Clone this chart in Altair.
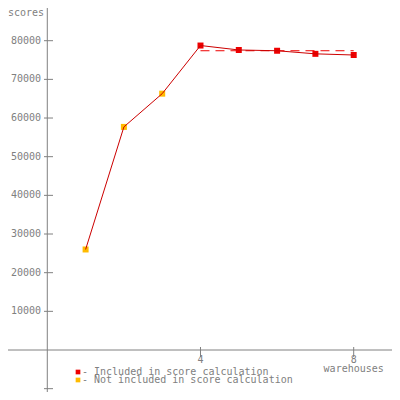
import altair as alt
import pandas as pd

# ---- data ----
warehouses = [1, 2, 3, 4, 5, 6, 7, 8]
scores = [26000, 57700, 66300, 78750, 77600, 77400, 76600, 76300]
included = ["no", "no", "no", "yes", "yes", "yes", "yes", "yes"]
avg_score = 77400
avg_range = [4, 8]
y_tick_values = [-10000, 10000, 20000, 30000, 40000, 50000, 60000, 70000, 80000]
y_tick_labels = ["", "10000", "20000", "30000", "40000", "50000", "60000", "70000", "80000"]
x_tick_values = [4, 8]
x_tick_labels = ["4", "8"]
legend_labels = ["- Included in score calculation", "- Not included in score calculation"]
y_title = "scores"
x_title = "warehouses"

# ---- styles ----
GRAY = "#808080"
RED = "#ee0000"
ORANGE = "#ffbb00"
LINE = "#cc0000"
FONT = "DejaVu Sans Mono"
FS = 10
W = H = 384

xs = alt.Scale(domain=[-1.026, 9.0], nice=False, zero=False)
ys = alt.Scale(domain=[-10863, 88457], nice=False, zero=False)

pts = pd.DataFrame({"w": warehouses, "s": scores, "inc": included})
yt = pd.DataFrame({"v": y_tick_values, "t": y_tick_labels})
xt = pd.DataFrame({"v": x_tick_values, "t": x_tick_labels})
origin = pd.DataFrame({"v": [0]})
avg = pd.DataFrame({"a": [avg_range[0]], "b": [avg_range[1]], "s": [avg_score]})
leg = pd.DataFrame({"t": legend_labels, "inc": ["yes", "no"], "row": [0, 1]})

X = lambda f: alt.X(f, type="quantitative", scale=xs, axis=None)
Y = lambda f: alt.Y(f, type="quantitative", scale=ys, axis=None)

y_axis = alt.Chart(origin).mark_rule(color=GRAY, strokeWidth=1).encode(
    x=X("v"), y=alt.value(0), y2=alt.value(H))
x_axis = alt.Chart(origin).mark_rule(color=GRAY, strokeWidth=1).encode(
    y=Y("v"), x=alt.value(0), x2=alt.value(W))

y_ticks = alt.Chart(yt).mark_rule(color=GRAY).encode(
    y=Y("v"), x=alt.value(36), x2=alt.value(45))
y_labels = alt.Chart(yt).mark_text(align="right", baseline="middle", font=FONT,
                                   fontSize=FS, color=GRAY).encode(
    y=Y("v"), x=alt.value(33), text="t:N")

x_ticks = alt.Chart(xt).mark_rule(color=GRAY).encode(
    x=X("v"), y=alt.value(339), y2=alt.value(349))
x_labels = alt.Chart(xt).mark_text(align="center", baseline="alphabetic", font=FONT,
                                   fontSize=FS, color=GRAY).encode(
    x=X("v"), y=alt.value(355), text="t:N")

x_ttl = alt.Chart(pd.DataFrame({"v": [8], "t": [x_title]})).mark_text(
    align="center", baseline="alphabetic", font=FONT, fontSize=FS, color=GRAY).encode(
    x=X("v"), y=alt.value(364), text="t:N")
y_ttl = alt.Chart(pd.DataFrame({"t": [y_title]})).mark_text(
    align="left", baseline="alphabetic", font=FONT, fontSize=FS, color=GRAY).encode(
    x=alt.value(0), y=alt.value(8), text="t:N")

avg_rule = alt.Chart(avg).mark_rule(color=RED, strokeDash=[9, 6], strokeWidth=1).encode(
    x=X("a"), x2="b", y=Y("s"))

color = alt.Color("inc:N", scale=alt.Scale(domain=["yes", "no"], range=[RED, ORANGE]),
                  legend=None)

markers = alt.Chart(pts).mark_square(size=36, opacity=1, filled=True).encode(
    x=X("w"), y=Y("s"), color=color)
line = alt.Chart(pts).mark_line(color=LINE, strokeWidth=1).encode(
    x=X("w"), y=Y("s"), order="w:Q")

row_scale_sq = alt.Scale(domain=[0, 1], range=[364, 372])
row_scale_tx = alt.Scale(domain=[0, 1], range=[367, 375])
leg_sq = alt.Chart(leg).mark_square(size=22, opacity=1, filled=True).encode(
    x=alt.value(70),
    y=alt.Y("row:Q", scale=row_scale_sq, axis=None),
    color=color)
leg_txt = alt.Chart(leg).mark_text(align="left", baseline="alphabetic", font=FONT,
                                   fontSize=FS, color=GRAY).encode(
    x=alt.value(74),
    y=alt.Y("row:Q", scale=row_scale_tx, axis=None),
    text="t:N")

chart = alt.layer(
    y_axis, x_axis, y_ticks, y_labels, x_ticks, x_labels, x_ttl, y_ttl,
    avg_rule, markers, line, leg_sq, leg_txt
).resolve_scale(y="independent").properties(
    width=W, height=H, padding=0, autosize=alt.AutoSizeParams(type="none"),
    background="white"
).configure_view(stroke=None)

chart.save("out.html", embed_options={"renderer": "svg", "actions": False})
